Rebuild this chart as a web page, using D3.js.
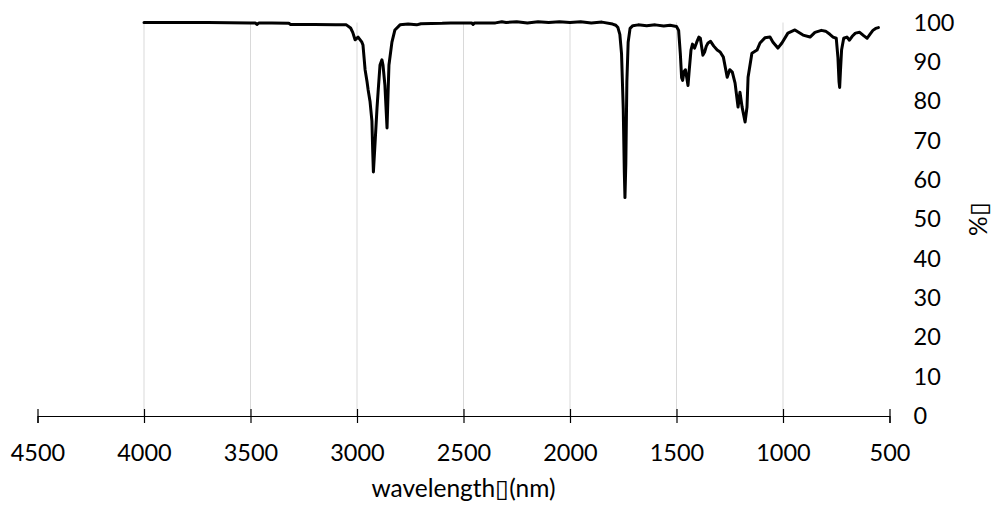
<!DOCTYPE html>
<html>
<head>
<meta charset="utf-8">
<script src="https://cdn.jsdelivr.net/npm/d3@7"></script>
<style>
  body { margin: 0; background: #fff; }
  text { font-family: Lato, 'Open Sans', sans-serif; fill: #000; }
</style>
</head>
<body>
<div id="chart-1"></div>
<script>
// wavenumber (cm-1) and transmittance (%)
let wavenumber = [
  4000, 3700, 3500, 3478, 3470, 3460, 3400, 3320, 3312, 3200, 3100, 3060,
  3050, 3030, 3020, 3009, 2995, 2977, 2972, 2962, 2953, 2948, 2939, 2930,
  2926, 2923, 2915, 2906, 2901, 2892, 2883, 2878, 2869, 2859, 2854, 2850,
  2836, 2822, 2798, 2760, 2720, 2700, 2600, 2560, 2462, 2455, 2448, 2350,
  2320, 2300, 2250, 2200, 2150, 2100, 2050, 2000, 1950, 1900, 1850, 1800,
  1785, 1775, 1766, 1758, 1750, 1745, 1742, 1738, 1733, 1727, 1718, 1705,
  1680, 1640, 1600, 1560, 1530, 1500, 1490, 1482, 1476, 1471, 1465, 1458,
  1452, 1446, 1440, 1432, 1425, 1415, 1405, 1395, 1388, 1376, 1368, 1360,
  1352, 1340, 1325, 1309, 1295, 1280, 1262, 1250, 1238, 1225, 1211, 1202,
  1192, 1178, 1169, 1164, 1146, 1122, 1108, 1085, 1061, 1047, 1024, 1005,
  977, 944, 906, 873, 850, 820, 800, 780, 765, 750, 742, 737,
  734, 730, 725, 715, 700, 688, 675, 660, 640, 620, 605, 592,
  578, 565, 552
]

let transmittance = [
  100, 100, 99.9, 99.9, 99.5, 99.9, 99.9, 99.8, 99.5, 99.5, 99.4, 99.4,
  99.4, 98.6, 97.5, 95.6, 96.3, 95.0, 94.3, 88, 85, 83, 80, 75,
  67, 62, 69.6, 78.3, 82.3, 89.2, 90.5, 89.2, 84.1, 73.2, 82.3, 89.2,
  95.0, 98.1, 99.4, 99.6, 99.4, 99.7, 99.8, 99.9, 99.9, 99.5, 99.9, 99.9,
  100.2, 100, 100.2, 99.9, 100.2, 100, 100.2, 100, 100.2, 99.9, 100.1, 99.6,
  99.3, 98.7, 97, 92, 78, 62, 55.5, 64, 85, 95, 98.5, 99.2,
  99.4, 99.2, 99.4, 99.1, 99.3, 99, 98, 92, 86, 85.3, 87.5, 88,
  86, 84, 88, 93, 94.5, 93.5, 95, 96.3, 96, 91.7, 92.5, 94,
  94.8, 95.2, 94, 93.0, 92.5, 91.2, 86.1, 88, 87.4, 84.6, 78.5, 82.3,
  78.5, 74.7, 78.5, 86.1, 92.2, 93.0, 94.8, 96.1, 96.3, 95.0, 93.5, 94.8,
  97.3, 98.1, 96.8, 96.3, 97.5, 98, 97.8, 97.0, 96.3, 96, 91, 85,
  83.5, 88, 93, 96, 96.3, 95.5, 96.5, 97.3, 97.5, 96.6, 96, 97,
  98, 98.5, 98.7
]

let xTicks = [4500, 4000, 3500, 3000, 2500, 2000, 1500, 1000, 500]
let xGrid = [4000, 3500, 3000, 2500, 2000, 1500, 1000]
let yTicks = [0, 10, 20, 30, 40, 50, 60, 70, 80, 90, 100]

let points = wavenumber.map((w, i) => ({ w: w, t: transmittance[i] }))

let margin = { top: 22.5, left: 37.5, right: 106.5, bottom: 95 }
let width = 996 - margin.left - margin.right
let height = 511 - margin.top - margin.bottom

let svg = d3
  .select('#chart-1')
  .append('svg')
  .attr('width', width + margin.left + margin.right)
  .attr('height', height + margin.top + margin.bottom)
  .append('g')
  .attr('transform', 'translate(' + margin.left + ',' + margin.top + ')')

let xScale = d3.scaleLinear().domain([4500, 500]).range([0, width])
let yScale = d3.scaleLinear().domain([0, 100]).range([height, 0])

// vertical gridlines
svg
  .append('g')
  .selectAll('.grid')
  .data(xGrid)
  .enter()
  .append('line')
  .attr('class', 'grid')
  .attr('x1', d => xScale(d))
  .attr('x2', d => xScale(d))
  .attr('y1', 0)
  .attr('y2', height)
  .attr('stroke', '#d9d9d9')
  .attr('stroke-width', 1)

// x axis with cross tick marks
let xAxis = d3
  .axisBottom(xScale)
  .tickValues(xTicks)
  .tickSize(7)
  .tickPadding(21)
  .tickFormat(d3.format('d'))

svg
  .append('g')
  .attr('class', 'x-axis')
  .attr('transform', 'translate(0,' + height + ')')
  .call(xAxis)
  .call(g => g.select('.domain').attr('stroke', '#000').attr('stroke-width', 1.2))
  .call(g => g.selectAll('.tick line').attr('y1', -7).attr('y2', 7).attr('stroke', '#000').attr('stroke-width', 1.2))
  .call(g => g.selectAll('.tick text').attr('font-size', 23.5).attr('font-family', 'Lato, sans-serif').attr('fill', '#000'))

// y labels on the right, no axis line
let yAxis = d3
  .axisRight(yScale)
  .tickValues(yTicks)
  .tickSize(0)
  .tickPadding(24)

svg
  .append('g')
  .attr('class', 'y-axis')
  .attr('transform', 'translate(' + width + ',0)')
  .call(yAxis)
  .call(g => g.select('.domain').remove())
  .call(g => g.selectAll('.tick text').attr('font-size', 23.5).attr('font-family', 'Lato, sans-serif').attr('fill', '#000'))

let line = d3
  .line()
  .x(d => xScale(d.w))
  .y(d => yScale(d.t))

svg
  .append('path')
  .datum(points)
  .attr('d', line)
  .attr('fill', 'none')
  .attr('stroke', '#000')
  .attr('stroke-width', 3)
  .attr('stroke-linejoin', 'round')
  .attr('stroke-linecap', 'round')

svg
  .append('text')
  .attr('x', width / 2)
  .attr('y', height + 81)
  .attr('text-anchor', 'middle')
  .attr('font-size', 24.5)
  .text('wavelength\u25AF(nm)')

svg
  .append('text')
  .attr('transform', 'translate(' + (width + 97) + ',' + height / 2 + ') rotate(-90)')
  .attr('text-anchor', 'middle')
  .attr('font-size', 24.5)
  .text('%\u25AF')
</script>
</body>
</html>
